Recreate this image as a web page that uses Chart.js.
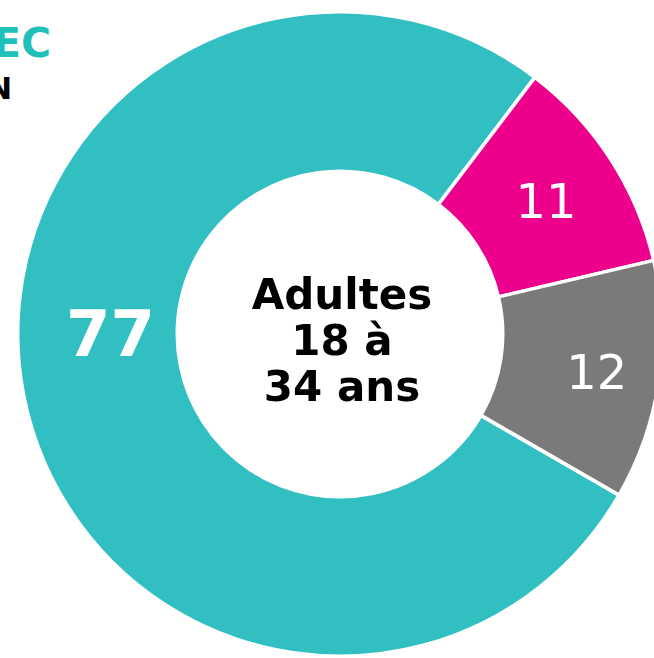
<!DOCTYPE html>
<html lang="fr">
<head>
  <meta charset="UTF-8" />
  <title>Adultes 18 à 34 ans</title>
  <script src="https://cdn.jsdelivr.net/npm/chart.js@4.4.0/dist/chart.umd.min.js"></script>
  <style>
    html, body {
      margin: 0;
      padding: 0;
      width: 654px;
      height: 658px;
      overflow: hidden;
      background: #fff;
      font-family: 'DejaVu Sans', Verdana, sans-serif;
    }
    .chart-box {
      position: absolute;
      left: 16px;
      top: 10px;
      width: 648px;
      height: 648px;
    }
    .cut-title {
      position: absolute;
      font-weight: bold;
      white-space: nowrap;
    }
    .t1 { top: 19px; right: 603px; font-size: 41px; color: #1fbfba; }
    .t2 { top: 71px; right: 642px; font-size: 30px; color: #000; }
  </style>
</head>
<body>
  <div class="cut-title t1">EC</div>
  <div class="cut-title t2">N</div>
  <div class="chart-box">
    <canvas id="donut"></canvas>
  </div>

  <script>
    const categories = ['Groupe A', 'Groupe B', 'Groupe C'];
    const values = [77, 11, 12];
    const colors = ['#31bfc1', '#ec008c', '#7a7a7a'];
    const centerLines = ['Adultes', '18 à', '34 ans'];

    // labels inside the ring + centre text
    const ringLabels = {
      id: 'ringLabels',
      afterDatasetsDraw(chart, args, opts) {
        const ctx = chart.ctx;
        const meta = chart.getDatasetMeta(0);
        meta.data.forEach((arc, i) => {
          const p = arc.getProps(['x', 'y', 'startAngle', 'endAngle', 'innerRadius', 'outerRadius']);
          let a = (p.startAngle + p.endAngle) / 2;
          if (opts.angles[i] != null) a = opts.angles[i] * Math.PI / 180 - Math.PI / 2;
          const r = (p.innerRadius + p.outerRadius) / 2 + (opts.shift[i] || 0);
          ctx.save();
          ctx.fillStyle = '#fff';
          ctx.font = opts.fonts[i];
          ctx.textAlign = 'center';
          ctx.textBaseline = 'middle';
          ctx.fillText(String(values[i]), p.x + r * Math.cos(a) + 1, p.y + r * Math.sin(a) + 5);
          ctx.restore();
        });

        const c = meta.data[0];
        ctx.save();
        ctx.fillStyle = '#000';
        ctx.font = 'bold 42px "DejaVu Sans", Verdana, sans-serif';
        ctx.textAlign = 'center';
        ctx.textBaseline = 'alphabetic';
        centerLines.forEach((line, i) => {
          ctx.fillText(line, c.x + 2, c.y - 25 + i * 46);
        });
        ctx.restore();
      }
    };

    new Chart(document.getElementById('donut'), {
      type: 'doughnut',
      data: {
        labels: categories,
        datasets: [{
          data: values,
          backgroundColor: colors,
          borderColor: '#fff',
          borderWidth: 3.5
        }]
      },
      options: {
        responsive: true,
        maintainAspectRatio: false,
        animation: false,
        rotation: 120,
        cutout: '50.5%',
        layout: { padding: 0 },
        plugins: {
          legend: { display: false },
          tooltip: { enabled: false },
          ringLabels: {
            angles: [270, null, null],
            shift: [-12, 2, 16],
            fonts: [
              'bold 64px "DejaVu Sans", Verdana, sans-serif',
              '48px "DejaVu Sans", Verdana, sans-serif',
              '48px "DejaVu Sans", Verdana, sans-serif'
            ]
          }
        }
      },
      plugins: [ringLabels]
    });
  </script>
</body>
</html>
